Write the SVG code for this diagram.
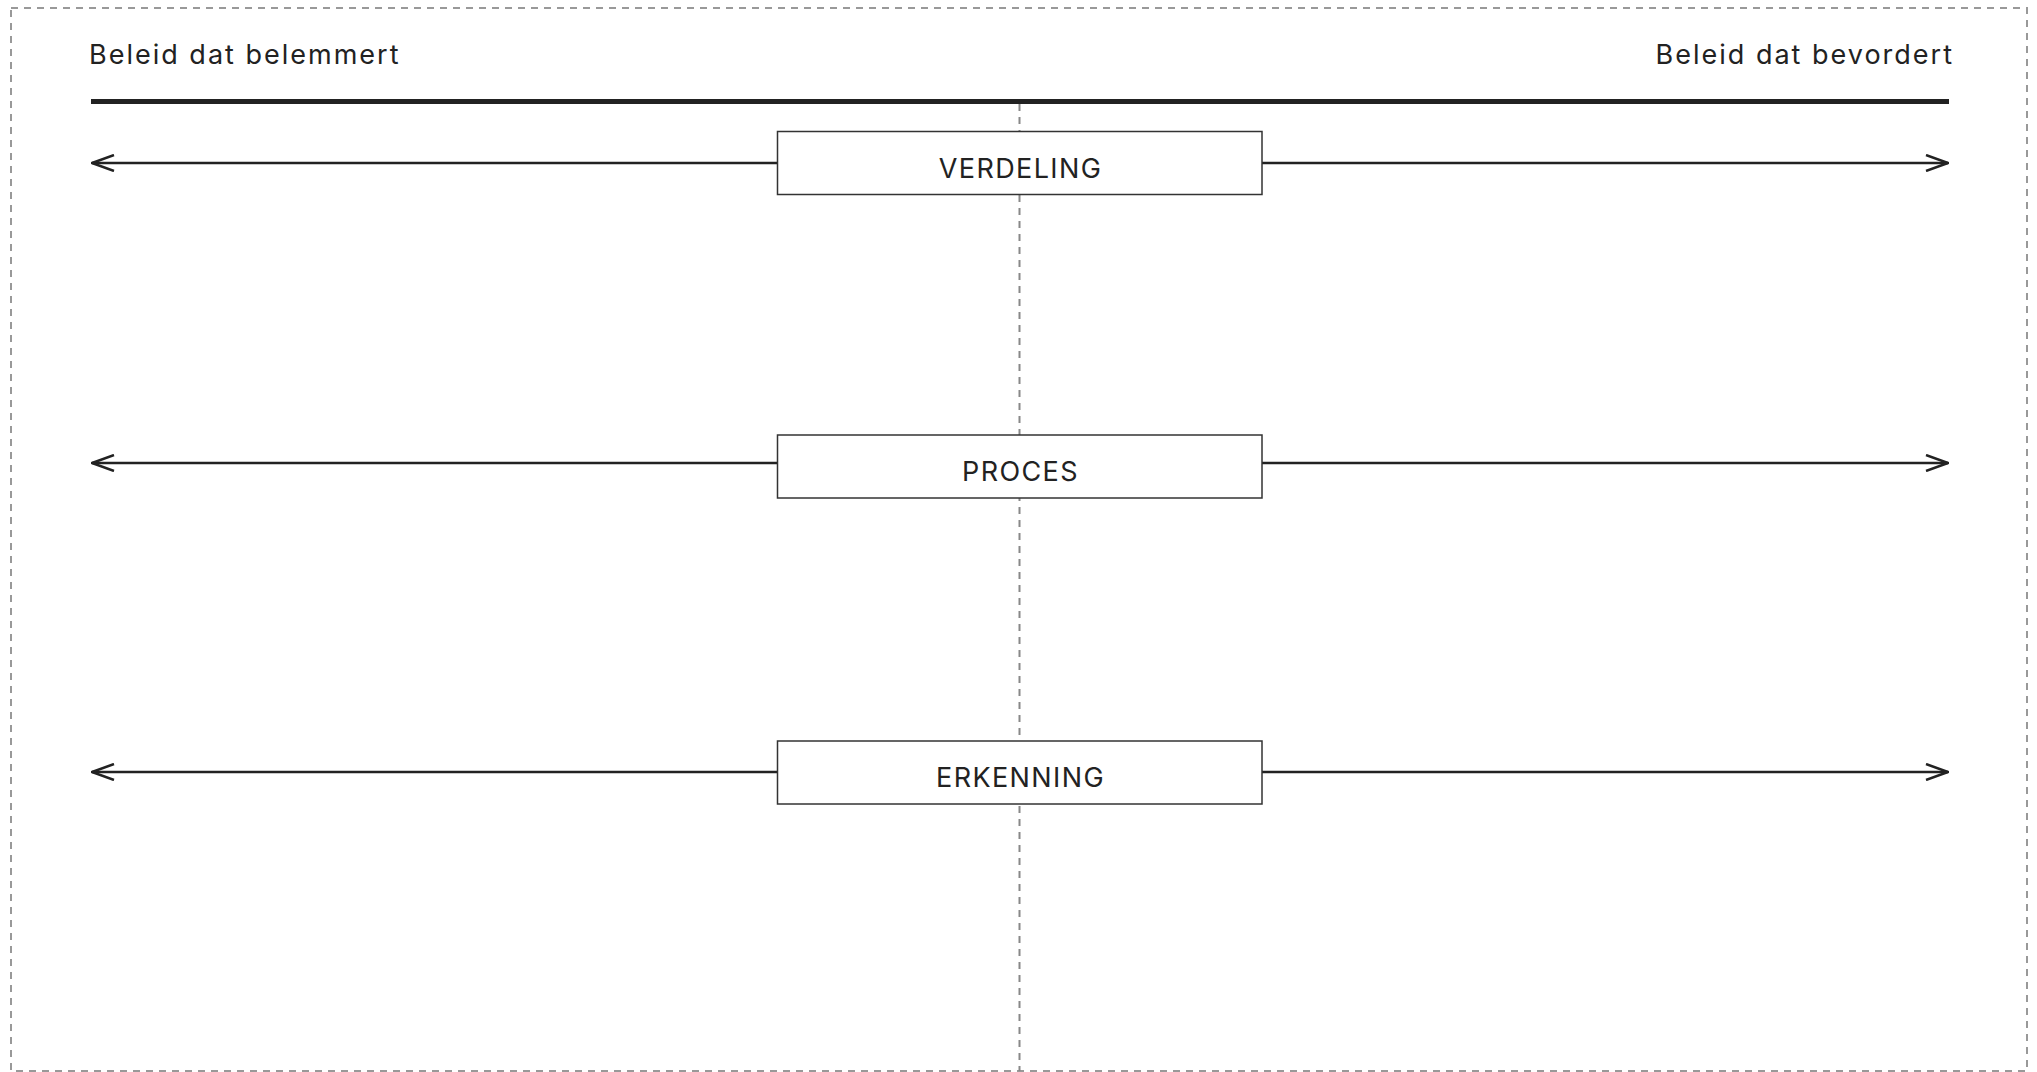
<svg xmlns="http://www.w3.org/2000/svg" width="2037" height="1072" viewBox="0 0 2037 1072">
<defs>
<style>
.frame{fill:none;stroke:#999;stroke-width:2;stroke-dasharray:7 6}
.axis{stroke:#888;stroke-width:2;stroke-dasharray:7 6}
.head{font-family:Inter,"Liberation Sans",sans-serif;font-size:27px;fill:#222;letter-spacing:2px}
.bar{stroke:#222;stroke-width:5}
.arr{stroke:#222;stroke-width:2.5;fill:none}
.box{fill:#fff;stroke:#333;stroke-width:1.5}
.lbl{font-family:Inter,"Liberation Sans",sans-serif;font-size:27px;fill:#222;text-anchor:middle;letter-spacing:1.4px}
</style>
<marker id="ah" viewBox="0 0 24 18" refX="23" refY="9" markerWidth="24" markerHeight="18" markerUnits="userSpaceOnUse" orient="auto-start-reverse">
<path d="M1 1 L23 9 L1 17" fill="none" stroke="#222" stroke-width="2.5"/>
</marker>
</defs>
<rect class="frame" x="11" y="8" width="2016" height="1063"/>
<g id="headers">
<text class="head" x="89" y="64">Beleid dat belemmert</text>
<text class="head" x="1954" y="64" text-anchor="end">Beleid dat bevordert</text>
<line class="bar" x1="91" y1="101.5" x2="1949" y2="101.5"/>
</g>
<g id="connectors">
<line class="axis" x1="1019.5" y1="104" x2="1019.5" y2="1071"/>
<line class="arr" x1="778" y1="163" x2="92" y2="163" marker-end="url(#ah)"/>
<line class="arr" x1="1262" y1="163" x2="1948" y2="163" marker-end="url(#ah)"/>
<line class="arr" x1="778" y1="463" x2="92" y2="463" marker-end="url(#ah)"/>
<line class="arr" x1="1262" y1="463" x2="1948" y2="463" marker-end="url(#ah)"/>
<line class="arr" x1="778" y1="772" x2="92" y2="772" marker-end="url(#ah)"/>
<line class="arr" x1="1262" y1="772" x2="1948" y2="772" marker-end="url(#ah)"/>
</g>
<g id="verdeling">
<rect class="box" x="777.5" y="131.5" width="484.5" height="63"/>
<text class="lbl" x="1020.5" y="178">VERDELING</text>
</g>
<g id="proces">
<rect class="box" x="777.5" y="435" width="484.5" height="63"/>
<text class="lbl" x="1020.5" y="481">PROCES</text>
</g>
<g id="erkenning">
<rect class="box" x="777.5" y="741" width="484.5" height="63"/>
<text class="lbl" x="1020.5" y="787">ERKENNING</text>
</g>
</svg>
